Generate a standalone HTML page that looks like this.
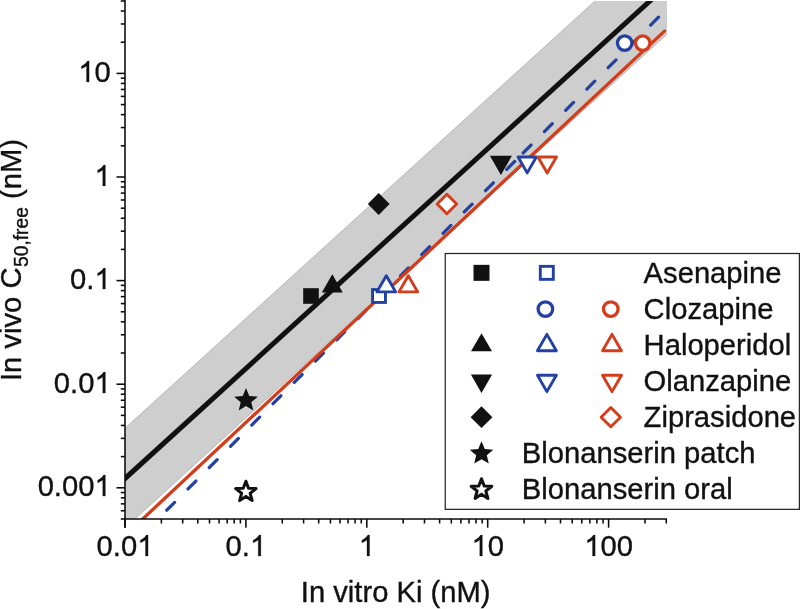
<!DOCTYPE html><html><head><meta charset="utf-8"><style>html,body{margin:0;padding:0;background:#fff;overflow:hidden;}svg{display:block;will-change:transform;}text{font-family:"Liberation Sans",sans-serif;fill:#111111;stroke:#111111;stroke-width:0.35px;}</style></head><body>
<svg width="800" height="609" viewBox="0 0 800 609">
<defs><clipPath id="pc"><rect x="125.00" y="1.00" width="542.00" height="518.00"/></clipPath></defs>
<rect width="800" height="609" fill="#fff"/>
<g clip-path="url(#pc)">
<polygon points="100.00,451.02 700.00,-94.44 700.00,4.15 100.00,550.75" fill="#cdcecd"/>
<line x1="100.00" y1="451.02" x2="700.00" y2="-94.44" stroke="#b8b8b8" stroke-width="1.00"/>
<line x1="100.00" y1="550.75" x2="700.00" y2="4.15" stroke="#b8b8b8" stroke-width="1.00"/>
<rect x="303.20" y="288.20" width="15.60" height="15.60" fill="#111111"/>
<polygon points="332.30,274.33 342.75,292.43 321.85,292.43" fill="#111111"/>
<polygon points="378.70,193.10 389.60,204.00 378.70,214.90 367.80,204.00" fill="#111111"/>
<polygon points="489.90,155.85 511.90,155.85 500.90,174.90" fill="#111111"/>
<polygon points="246.00,388.10 249.28,395.99 257.79,396.67 251.31,402.22 253.29,410.53 246.00,406.08 238.71,410.53 240.69,402.22 234.21,396.67 242.72,395.99" fill="#111111"/>
<polygon points="245.90,481.20 248.54,488.26 256.08,488.59 250.17,493.29 252.19,500.56 245.90,496.39 239.61,500.56 241.63,493.29 235.72,488.59 243.26,488.26" fill="#fff" stroke="#111111" stroke-width="3.00" stroke-linejoin="round"/>
<line x1="100.00" y1="501.24" x2="700.00" y2="-44.58" stroke="#111111" stroke-width="5.00"/>
<line x1="150.00" y1="527.04" x2="522.00" y2="154.11" stroke="#2241a3" stroke-width="3.20" stroke-linecap="round" stroke-dasharray="11.16 18.93" stroke-dashoffset="-23.73"/>
<line x1="522.00" y1="154.11" x2="700.00" y2="-24.33" stroke="#2241a3" stroke-width="3.20" stroke-linecap="round" stroke-dasharray="11.16 18.93" stroke-dashoffset="-1.64"/>
<line x1="100.00" y1="558.91" x2="664.50" y2="31.10" stroke="#d43d1b" stroke-width="3.30" stroke-linecap="round"/>
<rect x="372.55" y="289.55" width="12.90" height="12.90" fill="#fff" stroke="#2241a3" stroke-width="2.90"/>
<polygon points="386.30,275.70 395.65,291.90 376.95,291.90" fill="#fff" stroke="#2241a3" stroke-width="2.90" stroke-linejoin="round"/>
<polygon points="518.05,157.02 536.35,157.02 527.20,172.87" fill="#fff" stroke="#2241a3" stroke-width="2.90" stroke-linejoin="round"/>
<circle cx="624.70" cy="43.10" r="7.25" fill="#fff" stroke="#2241a3" stroke-width="3.30"/>
<polygon points="408.30,275.70 417.65,291.90 398.95,291.90" fill="#fff" stroke="#d43d1b" stroke-width="2.90" stroke-linejoin="round"/>
<polygon points="446.90,194.25 456.65,204.00 446.90,213.75 437.15,204.00" fill="#fff" stroke="#d43d1b" stroke-width="2.90" stroke-linejoin="round"/>
<polygon points="537.95,156.96 556.45,156.96 547.20,172.98" fill="#fff" stroke="#d43d1b" stroke-width="2.90" stroke-linejoin="round"/>
<circle cx="642.70" cy="43.10" r="7.25" fill="#fff" stroke="#d43d1b" stroke-width="3.30"/>
</g>
<line x1="125.00" y1="0.00" x2="125.00" y2="527.70" stroke="#0a0a0a" stroke-width="1.55"/>
<line x1="124.30" y1="519.00" x2="667.00" y2="519.00" stroke="#0a0a0a" stroke-width="1.55"/>
<line x1="120.80" y1="518.99" x2="125.00" y2="518.99" stroke="#0a0a0a" stroke-width="1.55"/>
<line x1="120.80" y1="510.78" x2="125.00" y2="510.78" stroke="#0a0a0a" stroke-width="1.55"/>
<line x1="120.80" y1="503.85" x2="125.00" y2="503.85" stroke="#0a0a0a" stroke-width="1.55"/>
<line x1="120.80" y1="497.84" x2="125.00" y2="497.84" stroke="#0a0a0a" stroke-width="1.55"/>
<line x1="120.80" y1="492.54" x2="125.00" y2="492.54" stroke="#0a0a0a" stroke-width="1.55"/>
<line x1="116.50" y1="487.80" x2="125.00" y2="487.80" stroke="#0a0a0a" stroke-width="1.55"/>
<line x1="120.80" y1="456.61" x2="125.00" y2="456.61" stroke="#0a0a0a" stroke-width="1.55"/>
<line x1="120.80" y1="438.37" x2="125.00" y2="438.37" stroke="#0a0a0a" stroke-width="1.55"/>
<line x1="120.80" y1="425.43" x2="125.00" y2="425.43" stroke="#0a0a0a" stroke-width="1.55"/>
<line x1="120.80" y1="415.39" x2="125.00" y2="415.39" stroke="#0a0a0a" stroke-width="1.55"/>
<line x1="120.80" y1="407.18" x2="125.00" y2="407.18" stroke="#0a0a0a" stroke-width="1.55"/>
<line x1="120.80" y1="400.25" x2="125.00" y2="400.25" stroke="#0a0a0a" stroke-width="1.55"/>
<line x1="120.80" y1="394.24" x2="125.00" y2="394.24" stroke="#0a0a0a" stroke-width="1.55"/>
<line x1="120.80" y1="388.94" x2="125.00" y2="388.94" stroke="#0a0a0a" stroke-width="1.55"/>
<line x1="116.50" y1="384.20" x2="125.00" y2="384.20" stroke="#0a0a0a" stroke-width="1.55"/>
<line x1="120.80" y1="353.01" x2="125.00" y2="353.01" stroke="#0a0a0a" stroke-width="1.55"/>
<line x1="120.80" y1="334.77" x2="125.00" y2="334.77" stroke="#0a0a0a" stroke-width="1.55"/>
<line x1="120.80" y1="321.83" x2="125.00" y2="321.83" stroke="#0a0a0a" stroke-width="1.55"/>
<line x1="120.80" y1="311.79" x2="125.00" y2="311.79" stroke="#0a0a0a" stroke-width="1.55"/>
<line x1="120.80" y1="303.58" x2="125.00" y2="303.58" stroke="#0a0a0a" stroke-width="1.55"/>
<line x1="120.80" y1="296.65" x2="125.00" y2="296.65" stroke="#0a0a0a" stroke-width="1.55"/>
<line x1="120.80" y1="290.64" x2="125.00" y2="290.64" stroke="#0a0a0a" stroke-width="1.55"/>
<line x1="120.80" y1="285.34" x2="125.00" y2="285.34" stroke="#0a0a0a" stroke-width="1.55"/>
<line x1="116.50" y1="280.60" x2="125.00" y2="280.60" stroke="#0a0a0a" stroke-width="1.55"/>
<line x1="120.80" y1="249.41" x2="125.00" y2="249.41" stroke="#0a0a0a" stroke-width="1.55"/>
<line x1="120.80" y1="231.17" x2="125.00" y2="231.17" stroke="#0a0a0a" stroke-width="1.55"/>
<line x1="120.80" y1="218.23" x2="125.00" y2="218.23" stroke="#0a0a0a" stroke-width="1.55"/>
<line x1="120.80" y1="208.19" x2="125.00" y2="208.19" stroke="#0a0a0a" stroke-width="1.55"/>
<line x1="120.80" y1="199.98" x2="125.00" y2="199.98" stroke="#0a0a0a" stroke-width="1.55"/>
<line x1="120.80" y1="193.05" x2="125.00" y2="193.05" stroke="#0a0a0a" stroke-width="1.55"/>
<line x1="120.80" y1="187.04" x2="125.00" y2="187.04" stroke="#0a0a0a" stroke-width="1.55"/>
<line x1="120.80" y1="181.74" x2="125.00" y2="181.74" stroke="#0a0a0a" stroke-width="1.55"/>
<line x1="116.50" y1="177.00" x2="125.00" y2="177.00" stroke="#0a0a0a" stroke-width="1.55"/>
<line x1="120.80" y1="145.81" x2="125.00" y2="145.81" stroke="#0a0a0a" stroke-width="1.55"/>
<line x1="120.80" y1="127.57" x2="125.00" y2="127.57" stroke="#0a0a0a" stroke-width="1.55"/>
<line x1="120.80" y1="114.63" x2="125.00" y2="114.63" stroke="#0a0a0a" stroke-width="1.55"/>
<line x1="120.80" y1="104.59" x2="125.00" y2="104.59" stroke="#0a0a0a" stroke-width="1.55"/>
<line x1="120.80" y1="96.38" x2="125.00" y2="96.38" stroke="#0a0a0a" stroke-width="1.55"/>
<line x1="120.80" y1="89.45" x2="125.00" y2="89.45" stroke="#0a0a0a" stroke-width="1.55"/>
<line x1="120.80" y1="83.44" x2="125.00" y2="83.44" stroke="#0a0a0a" stroke-width="1.55"/>
<line x1="120.80" y1="78.14" x2="125.00" y2="78.14" stroke="#0a0a0a" stroke-width="1.55"/>
<line x1="116.50" y1="73.40" x2="125.00" y2="73.40" stroke="#0a0a0a" stroke-width="1.55"/>
<line x1="120.80" y1="42.21" x2="125.00" y2="42.21" stroke="#0a0a0a" stroke-width="1.55"/>
<line x1="120.80" y1="23.97" x2="125.00" y2="23.97" stroke="#0a0a0a" stroke-width="1.55"/>
<line x1="120.80" y1="11.03" x2="125.00" y2="11.03" stroke="#0a0a0a" stroke-width="1.55"/>
<line x1="120.80" y1="0.99" x2="125.00" y2="0.99" stroke="#0a0a0a" stroke-width="1.55"/>
<line x1="125.00" y1="519.00" x2="125.00" y2="527.70" stroke="#0a0a0a" stroke-width="1.55"/>
<line x1="161.39" y1="519.00" x2="161.39" y2="523.50" stroke="#0a0a0a" stroke-width="1.55"/>
<line x1="182.68" y1="519.00" x2="182.68" y2="523.50" stroke="#0a0a0a" stroke-width="1.55"/>
<line x1="197.79" y1="519.00" x2="197.79" y2="523.50" stroke="#0a0a0a" stroke-width="1.55"/>
<line x1="209.51" y1="519.00" x2="209.51" y2="523.50" stroke="#0a0a0a" stroke-width="1.55"/>
<line x1="219.08" y1="519.00" x2="219.08" y2="523.50" stroke="#0a0a0a" stroke-width="1.55"/>
<line x1="227.17" y1="519.00" x2="227.17" y2="523.50" stroke="#0a0a0a" stroke-width="1.55"/>
<line x1="234.18" y1="519.00" x2="234.18" y2="523.50" stroke="#0a0a0a" stroke-width="1.55"/>
<line x1="240.37" y1="519.00" x2="240.37" y2="523.50" stroke="#0a0a0a" stroke-width="1.55"/>
<line x1="245.90" y1="519.00" x2="245.90" y2="527.70" stroke="#0a0a0a" stroke-width="1.55"/>
<line x1="282.29" y1="519.00" x2="282.29" y2="523.50" stroke="#0a0a0a" stroke-width="1.55"/>
<line x1="303.58" y1="519.00" x2="303.58" y2="523.50" stroke="#0a0a0a" stroke-width="1.55"/>
<line x1="318.69" y1="519.00" x2="318.69" y2="523.50" stroke="#0a0a0a" stroke-width="1.55"/>
<line x1="330.41" y1="519.00" x2="330.41" y2="523.50" stroke="#0a0a0a" stroke-width="1.55"/>
<line x1="339.98" y1="519.00" x2="339.98" y2="523.50" stroke="#0a0a0a" stroke-width="1.55"/>
<line x1="348.07" y1="519.00" x2="348.07" y2="523.50" stroke="#0a0a0a" stroke-width="1.55"/>
<line x1="355.08" y1="519.00" x2="355.08" y2="523.50" stroke="#0a0a0a" stroke-width="1.55"/>
<line x1="361.27" y1="519.00" x2="361.27" y2="523.50" stroke="#0a0a0a" stroke-width="1.55"/>
<line x1="366.80" y1="519.00" x2="366.80" y2="527.70" stroke="#0a0a0a" stroke-width="1.55"/>
<line x1="403.19" y1="519.00" x2="403.19" y2="523.50" stroke="#0a0a0a" stroke-width="1.55"/>
<line x1="424.48" y1="519.00" x2="424.48" y2="523.50" stroke="#0a0a0a" stroke-width="1.55"/>
<line x1="439.59" y1="519.00" x2="439.59" y2="523.50" stroke="#0a0a0a" stroke-width="1.55"/>
<line x1="451.31" y1="519.00" x2="451.31" y2="523.50" stroke="#0a0a0a" stroke-width="1.55"/>
<line x1="460.88" y1="519.00" x2="460.88" y2="523.50" stroke="#0a0a0a" stroke-width="1.55"/>
<line x1="468.97" y1="519.00" x2="468.97" y2="523.50" stroke="#0a0a0a" stroke-width="1.55"/>
<line x1="475.98" y1="519.00" x2="475.98" y2="523.50" stroke="#0a0a0a" stroke-width="1.55"/>
<line x1="482.17" y1="519.00" x2="482.17" y2="523.50" stroke="#0a0a0a" stroke-width="1.55"/>
<line x1="487.70" y1="519.00" x2="487.70" y2="527.70" stroke="#0a0a0a" stroke-width="1.55"/>
<line x1="524.09" y1="519.00" x2="524.09" y2="523.50" stroke="#0a0a0a" stroke-width="1.55"/>
<line x1="545.38" y1="519.00" x2="545.38" y2="523.50" stroke="#0a0a0a" stroke-width="1.55"/>
<line x1="560.49" y1="519.00" x2="560.49" y2="523.50" stroke="#0a0a0a" stroke-width="1.55"/>
<line x1="572.21" y1="519.00" x2="572.21" y2="523.50" stroke="#0a0a0a" stroke-width="1.55"/>
<line x1="581.78" y1="519.00" x2="581.78" y2="523.50" stroke="#0a0a0a" stroke-width="1.55"/>
<line x1="589.87" y1="519.00" x2="589.87" y2="523.50" stroke="#0a0a0a" stroke-width="1.55"/>
<line x1="596.88" y1="519.00" x2="596.88" y2="523.50" stroke="#0a0a0a" stroke-width="1.55"/>
<line x1="603.07" y1="519.00" x2="603.07" y2="523.50" stroke="#0a0a0a" stroke-width="1.55"/>
<line x1="608.60" y1="519.00" x2="608.60" y2="527.70" stroke="#0a0a0a" stroke-width="1.55"/>
<line x1="644.99" y1="519.00" x2="644.99" y2="523.50" stroke="#0a0a0a" stroke-width="1.55"/>
<line x1="666.28" y1="519.00" x2="666.28" y2="523.50" stroke="#0a0a0a" stroke-width="1.55"/>
<g transform="translate(78.22,82.00) scale(1,1.000)"><text x="0" y="0" font-size="29.2"> 0</text><path d="M763 0L583 0L583 1147Q518 1085 412 1023Q306 961 223 930L223 1104Q373 1175 485 1276Q597 1377 644 1466L763 1466Z" fill="#111111" stroke="#111111" stroke-width="21.04" transform="translate(0.00,0) scale(0.01426,-0.01426)"/></g>
<g transform="translate(94.46,186.00) scale(1,1.000)"><text x="0" y="0" font-size="29.2"> </text><path d="M763 0L583 0L583 1147Q518 1085 412 1023Q306 961 223 930L223 1104Q373 1175 485 1276Q597 1377 644 1466L763 1466Z" fill="#111111" stroke="#111111" stroke-width="21.04" transform="translate(0.00,0) scale(0.01426,-0.01426)"/></g>
<g transform="translate(70.11,289.00) scale(1,1.000)"><text x="0" y="0" font-size="29.2">0. </text><path d="M763 0L583 0L583 1147Q518 1085 412 1023Q306 961 223 930L223 1104Q373 1175 485 1276Q597 1377 644 1466L763 1466Z" fill="#111111" stroke="#111111" stroke-width="21.04" transform="translate(24.35,0) scale(0.01426,-0.01426)"/></g>
<g transform="translate(53.87,393.00) scale(1,1.000)"><text x="0" y="0" font-size="29.2">0.0 </text><path d="M763 0L583 0L583 1147Q518 1085 412 1023Q306 961 223 930L223 1104Q373 1175 485 1276Q597 1377 644 1466L763 1466Z" fill="#111111" stroke="#111111" stroke-width="21.04" transform="translate(40.59,0) scale(0.01426,-0.01426)"/></g>
<g transform="translate(37.63,496.00) scale(1,1.000)"><text x="0" y="0" font-size="29.2">0.00 </text><path d="M763 0L583 0L583 1147Q518 1085 412 1023Q306 961 223 930L223 1104Q373 1175 485 1276Q597 1377 644 1466L763 1466Z" fill="#111111" stroke="#111111" stroke-width="21.04" transform="translate(56.83,0) scale(0.01426,-0.01426)"/></g>
<g transform="translate(96.58,556.00) scale(1,1.000)"><text x="0" y="0" font-size="29.2">0.0 </text><path d="M763 0L583 0L583 1147Q518 1085 412 1023Q306 961 223 930L223 1104Q373 1175 485 1276Q597 1377 644 1466L763 1466Z" fill="#111111" stroke="#111111" stroke-width="21.04" transform="translate(40.59,0) scale(0.01426,-0.01426)"/></g>
<g transform="translate(225.60,556.00) scale(1,1.000)"><text x="0" y="0" font-size="29.2">0. </text><path d="M763 0L583 0L583 1147Q518 1085 412 1023Q306 961 223 930L223 1104Q373 1175 485 1276Q597 1377 644 1466L763 1466Z" fill="#111111" stroke="#111111" stroke-width="21.04" transform="translate(24.35,0) scale(0.01426,-0.01426)"/></g>
<g transform="translate(358.68,556.00) scale(1,1.000)"><text x="0" y="0" font-size="29.2"> </text><path d="M763 0L583 0L583 1147Q518 1085 412 1023Q306 961 223 930L223 1104Q373 1175 485 1276Q597 1377 644 1466L763 1466Z" fill="#111111" stroke="#111111" stroke-width="21.04" transform="translate(0.00,0) scale(0.01426,-0.01426)"/></g>
<g transform="translate(471.46,556.00) scale(1,1.000)"><text x="0" y="0" font-size="29.2"> 0</text><path d="M763 0L583 0L583 1147Q518 1085 412 1023Q306 961 223 930L223 1104Q373 1175 485 1276Q597 1377 644 1466L763 1466Z" fill="#111111" stroke="#111111" stroke-width="21.04" transform="translate(0.00,0) scale(0.01426,-0.01426)"/></g>
<g transform="translate(584.24,556.00) scale(1,1.000)"><text x="0" y="0" font-size="29.2"> 00</text><path d="M763 0L583 0L583 1147Q518 1085 412 1023Q306 961 223 930L223 1104Q373 1175 485 1276Q597 1377 644 1466L763 1466Z" fill="#111111" stroke="#111111" stroke-width="21.04" transform="translate(0.00,0) scale(0.01426,-0.01426)"/></g>
<text x="300.8" y="602" font-size="29.2">In vitro Ki (nM)</text>
<text transform="translate(20.8,381) rotate(-90)" font-size="29.2">In vivo C<tspan font-size="19.3" dy="7.6" dx="0.4">50,free</tspan><tspan dy="-7.6"> (nM)</tspan></text>
<rect x="445.25" y="253.50" width="354.15" height="255.85" fill="#fff" stroke="#262626" stroke-width="1.25"/>
<rect x="473.50" y="264.85" width="16.00" height="16.00" fill="#111111"/>
<rect x="540.30" y="266.35" width="13.00" height="13.00" fill="#fff" stroke="#2241a3" stroke-width="2.90"/>
<circle cx="545.40" cy="309.11" r="7.30" fill="#fff" stroke="#2241a3" stroke-width="3.30"/>
<circle cx="610.80" cy="309.11" r="7.30" fill="#fff" stroke="#d43d1b" stroke-width="3.30"/>
<polygon points="481.50,333.15 492.00,351.33 471.00,351.33" fill="#111111"/>
<polygon points="546.90,334.36 556.35,350.73 537.45,350.73" fill="#fff" stroke="#2241a3" stroke-width="2.90" stroke-linejoin="round"/>
<polygon points="612.00,334.36 621.45,350.73 602.55,350.73" fill="#fff" stroke="#d43d1b" stroke-width="2.90" stroke-linejoin="round"/>
<polygon points="470.90,374.61 492.10,374.61 481.50,392.97" fill="#111111"/>
<polygon points="537.45,375.27 556.35,375.27 546.90,391.64" fill="#fff" stroke="#2241a3" stroke-width="2.90" stroke-linejoin="round"/>
<polygon points="602.55,375.27 621.45,375.27 612.00,391.64" fill="#fff" stroke="#d43d1b" stroke-width="2.90" stroke-linejoin="round"/>
<polygon points="481.50,406.29 492.40,417.19 481.50,428.09 470.60,417.19" fill="#111111"/>
<polygon points="610.80,407.54 620.45,417.19 610.80,426.84 601.15,417.19" fill="#fff" stroke="#d43d1b" stroke-width="2.90" stroke-linejoin="round"/>
<polygon points="481.50,441.15 484.78,449.04 493.29,449.72 486.81,455.27 488.79,463.58 481.50,459.13 474.21,463.58 476.19,455.27 469.71,449.72 478.22,449.04" fill="#111111"/>
<polygon points="481.50,478.71 484.19,485.91 491.87,486.24 485.85,491.02 487.91,498.43 481.50,494.19 475.09,498.43 477.15,491.02 471.13,486.24 478.81,485.91" fill="#fff" stroke="#111111" stroke-width="3.00" stroke-linejoin="round"/>
<text x="643.60" y="282.75" font-size="29.2">Asenapine</text>
<text x="643.60" y="318.71" font-size="29.2">Clozapine</text>
<text x="643.60" y="354.67" font-size="29.2">Haloperidol</text>
<text x="643.60" y="390.63" font-size="29.2">Olanzapine</text>
<text x="643.60" y="426.59" font-size="29.2">Ziprasidone</text>
<text x="521.80" y="462.55" font-size="29.2">Blonanserin patch</text>
<text x="521.80" y="498.51" font-size="29.2">Blonanserin oral</text>
</svg></body></html>
